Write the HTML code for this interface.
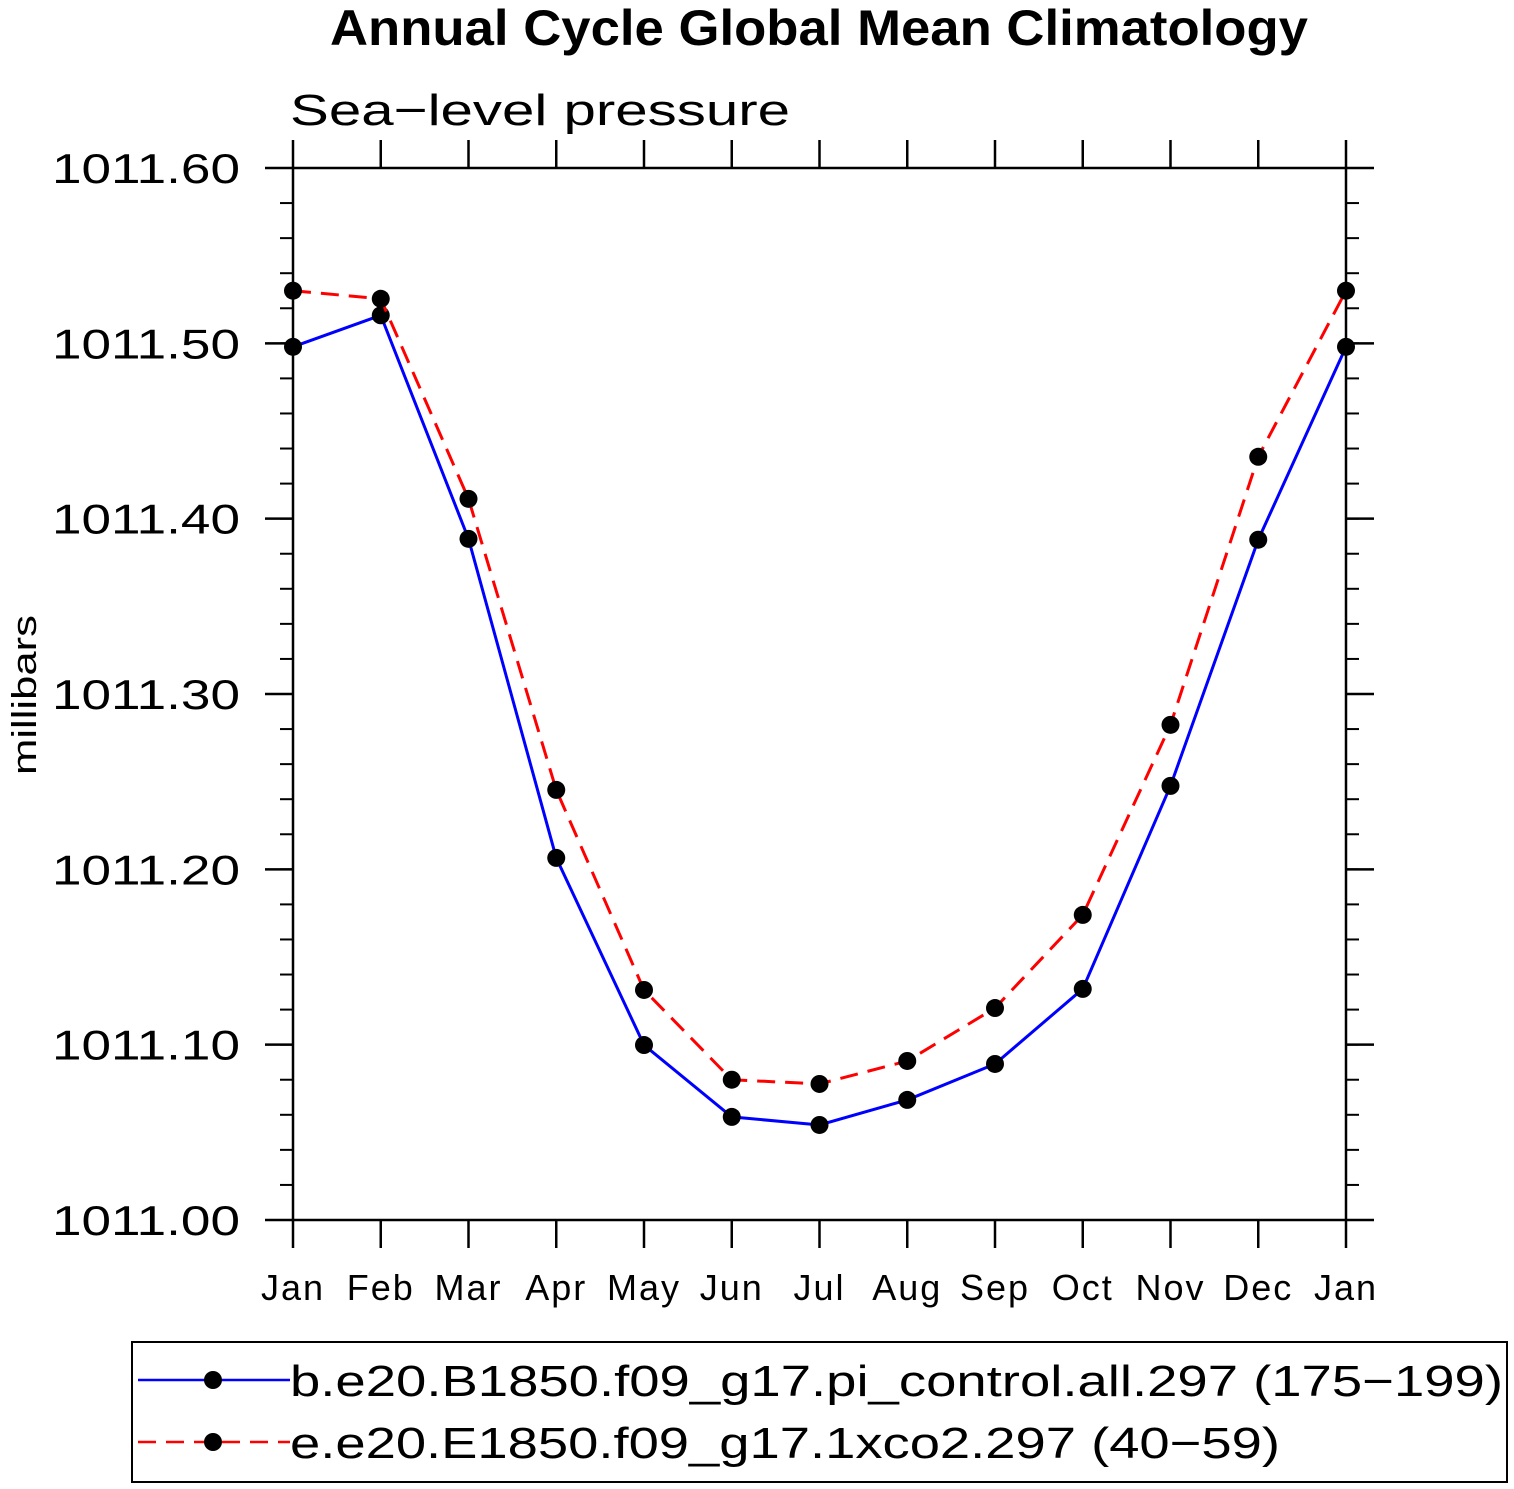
<!DOCTYPE html>
<html><head><meta charset="utf-8"><style>
html,body{margin:0;padding:0;background:#fff}
svg{display:block}
text{font-family:"Liberation Sans",sans-serif}
</style></head><body>
<svg id="chart" width="1514" height="1489" viewBox="0 0 1514 1489">
<text x="330" y="45" font-size="50" font-weight="bold" textLength="978" lengthAdjust="spacingAndGlyphs">Annual Cycle Global Mean Climatology</text>
<text x="290" y="125" font-size="44" textLength="500" lengthAdjust="spacingAndGlyphs">Sea−level pressure</text>
<text transform="translate(36,775) rotate(-90)" font-size="34" textLength="160" lengthAdjust="spacingAndGlyphs">millibars</text>
<g id="axes"></g>
<g id="series"></g>
<rect x="132" y="1342" width="1375" height="140" fill="none" stroke="#000" stroke-width="2"/>
<g>
<line x1="138" y1="1380" x2="290" y2="1380" stroke="#00f" stroke-width="2.5"/>
<circle cx="213" cy="1380" r="9" fill="#000"/>
<text x="290" y="1396" font-size="44" textLength="1213" lengthAdjust="spacingAndGlyphs">b.e20.B1850.f09_g17.pi_control.all.297 (175−199)</text>
</g>
<g>
<line x1="138" y1="1442" x2="290" y2="1442" stroke="#f00" stroke-width="2.5" stroke-dasharray="18,10"/>
<circle cx="213" cy="1442" r="9" fill="#000"/>
<text x="290" y="1458" font-size="44" textLength="990" lengthAdjust="spacingAndGlyphs">e.e20.E1850.f09_g17.1xco2.297 (40−59)</text>
</g>
</svg>
<script>
const months = ["Jan","Feb","Mar","Apr","May","Jun","Jul","Aug","Sep","Oct","Nov","Dec","Jan"];
const controlValues = [1011.498,1011.516,1011.3885,1011.2065,1011.0998,1011.0588,1011.0542,1011.0685,1011.089,1011.1318,1011.2476,1011.388,1011.498];
const co2Values = [1011.530,1011.5254,1011.4113,1011.2453,1011.1312,1011.0800,1011.0776,1011.0907,1011.1209,1011.1740,1011.2824,1011.4353,1011.530];
const yTicks = [1011.00,1011.10,1011.20,1011.30,1011.40,1011.50,1011.60];
const yTickLabels = ["1011.00","1011.10","1011.20","1011.30","1011.40","1011.50","1011.60"];

const NS="http://www.w3.org/2000/svg";
const L=293,R=1346,T=168,B=1220,ymin=1011.0,ymax=1011.6;
const xs=i=>L+(R-L)*i/(months.length-1);
const ys=v=>B-(v-ymin)/(ymax-ymin)*(B-T);
function mk(tag,attrs,parent){const e=document.createElementNS(NS,tag);for(const k in attrs)e.setAttribute(k,attrs[k]);parent.appendChild(e);return e;}
const ax=document.getElementById('axes');
const frame=mk('rect',{x:L,y:T,width:R-L,height:B-T,fill:'none',stroke:'#000','stroke-width':2.5},ax);


months.forEach((m,i)=>{
  const x=xs(i);
  mk('line',{x1:x,y1:B,x2:x,y2:B+28,stroke:'#000','stroke-width':2.5},ax);
  mk('line',{x1:x,y1:T,x2:x,y2:T-28,stroke:'#000','stroke-width':2.5},ax);
  const t=mk('text',{x:x,y:B+80,'text-anchor':'middle','font-size':36,'letter-spacing':2},ax);
  t.textContent=m;
  
  
});
for(let k=0;k<=30;k++){
  const v=ymin+k*0.02,y=ys(v);
  mk('line',{x1:L-13,y1:y,x2:L,y2:y,stroke:'#000','stroke-width':2},ax);
  mk('line',{x1:R,y1:y,x2:R+13,y2:y,stroke:'#000','stroke-width':2},ax);
}
yTicks.forEach((v,i)=>{
  const y=ys(v);
  mk('line',{x1:L-28,y1:y,x2:L,y2:y,stroke:'#000','stroke-width':2.5},ax);
  mk('line',{x1:R,y1:y,x2:R+28,y2:y,stroke:'#000','stroke-width':2.5},ax);
  const t=mk('text',{x:52,y:y+15,'font-size':42,textLength:188,lengthAdjust:'spacingAndGlyphs'},ax);
  t.textContent=yTickLabels[i];
  
  
});
const sg=document.getElementById('series');
function drawSeries(vals,color,dash,name){
  const p=mk('polyline',{points:vals.map((v,i)=>xs(i)+','+ys(v)).join(' '),fill:'none',stroke:color,'stroke-width':3},sg);
  if(dash)p.setAttribute('stroke-dasharray',dash);
  
  
  vals.forEach((v,i)=>{
    const c=mk('circle',{cx:xs(i),cy:ys(v),r:9,fill:'#000'},sg);
    
    
  });
}
drawSeries(controlValues,'#00f',null,'control');
drawSeries(co2Values,'#f00','18,10','co2');
</script>
</body></html>
